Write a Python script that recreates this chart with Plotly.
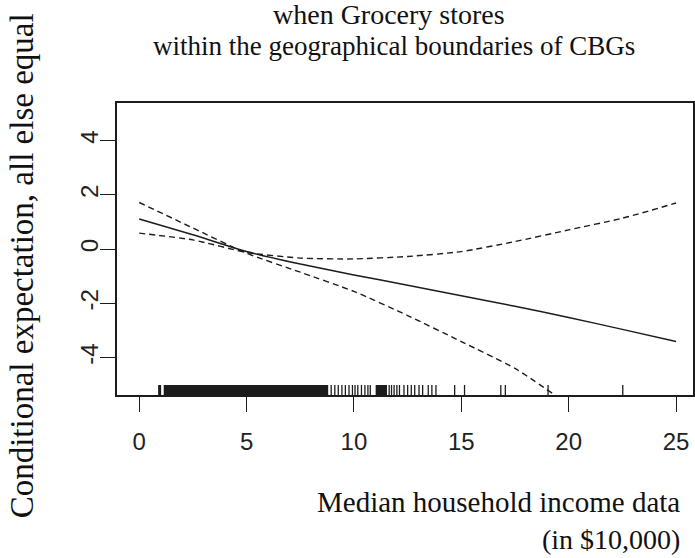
import plotly.graph_objects as go

# Smooth term for median household income (in $10,000): estimate and dashed bounds
income = [0, 2.5, 5, 7.5, 10, 12.5, 15, 17.5, 20, 22.5, 25]
fit = [1.11, 0.53, -0.09, -0.55, -0.95, -1.33, -1.72, -2.11, -2.52, -2.96, -3.41]
upper = [0.59, 0.34, -0.12, -0.33, -0.36, -0.27, -0.09, 0.28, 0.71, 1.14, 1.70]
lower_income = [0, 2.5, 5, 7.5, 10, 12.5, 15, 17.5, 19.3]
lower = [1.72, 0.78, -0.15, -0.85, -1.56, -2.45, -3.41, -4.40, -5.35]

# Rug of observed incomes: stretches so dense they print solid, plus single ticks
rug_dense = [(0.88, 1.02), (1.14, 8.80), (11.01, 11.54)]
rug_ticks = [8.94, 9.11, 9.27, 9.44, 9.60, 9.77, 9.93, 10.05, 10.18, 10.35,
             10.51, 10.65, 10.76, 11.64, 11.75, 11.87, 12.00, 12.12, 12.33,
             12.50, 12.67, 12.83, 13.03, 13.20, 13.46, 13.63, 13.82, 14.69,
             15.15, 16.84, 17.05, 19.04, 22.52]

x_ticks = [0, 5, 10, 15, 20, 25]
y_ticks = [-4, -2, 0, 2, 4]
y_tick_text = ["-4", "-2", "0", "2", "4"]

title_lines = ["when Grocery stores", "within the geographical boundaries of CBGs"]
x_title_lines = ["Median household income data", "(in $10,000)"]
y_title = "Conditional expectation, all else equal"

INK = "#1c1c1c"
W, H = 695, 558
L, R, T, B = 117, 0, 103, 163
RUG_H = 10 / (H - T - B)


def px_x(p):
    return (p - L) / (W - L - R)


def px_y(p):
    return (H - B - p) / (H - T - B)


fig = go.Figure()
fig.add_trace(go.Scatter(x=income, y=fit, mode="lines",
                         line=dict(color=INK, width=1.5, shape="spline", smoothing=0.6)))
fig.add_trace(go.Scatter(x=income, y=upper, mode="lines",
                         line=dict(color=INK, width=1.4, dash="6px,4px", shape="spline", smoothing=0.6)))
fig.add_trace(go.Scatter(x=lower_income, y=lower, mode="lines",
                         line=dict(color=INK, width=1.4, dash="6px,4px", shape="spline", smoothing=0.6)))

shapes = []
for a, b in rug_dense:
    shapes.append(dict(type="rect", xref="x", yref="y domain", x0=a, x1=b, y0=0, y1=RUG_H,
                       fillcolor=INK, line=dict(width=0)))
for v in rug_ticks:
    shapes.append(dict(type="line", xref="x", yref="y domain", x0=v, x1=v, y0=0, y1=RUG_H,
                       line=dict(color=INK, width=1.3)))

serif = "Liberation Serif, Times New Roman, serif"
annotations = [
    dict(text=title_lines[0], x=px_x(390), y=px_y(15), xref="paper", yref="paper",
         showarrow=False, xanchor="center", yanchor="middle", font=dict(family=serif, size=28, color="#111")),
    dict(text=title_lines[1], x=px_x(395), y=px_y(46), xref="paper", yref="paper",
         showarrow=False, xanchor="center", yanchor="middle", font=dict(family=serif, size=27, color="#111")),
    dict(text=x_title_lines[0], x=px_x(684), y=px_y(502), xref="paper", yref="paper",
         showarrow=False, xanchor="right", yanchor="middle", font=dict(family=serif, size=29, color="#111")),
    dict(text=x_title_lines[1], x=px_x(684), y=px_y(539), xref="paper", yref="paper",
         showarrow=False, xanchor="right", yanchor="middle", font=dict(family=serif, size=28, color="#111")),
    dict(text=y_title, x=px_x(22), y=px_y(266), xref="paper", yref="paper", textangle=-90,
         showarrow=False, xanchor="center", yanchor="middle", font=dict(family=serif, size=33, color="#111")),
]

axis_common = dict(showline=True, mirror=True, linecolor=INK, linewidth=1.5,
                   ticks="outside", ticklen=15, tickwidth=1.3, tickcolor=INK,
                   showgrid=False, zeroline=False,
                   tickfont=dict(family="Liberation Sans, Arial, sans-serif", size=24, color="#222"))

fig.update_layout(
    width=W, height=H, margin=dict(l=L, r=R, t=T, b=B),
    paper_bgcolor="white", plot_bgcolor="white", showlegend=False,
    xaxis=dict(range=[-1.035, 25.79], tickvals=x_ticks, ticklabelstandoff=9, **axis_common),
    yaxis=dict(range=[-5.38, 5.39], tickvals=y_ticks, ticktext=y_tick_text, tickangle=-90,
               ticklabelstandoff=-7, **axis_common),
    shapes=shapes, annotations=annotations,
)

fig.write_html("out.html")
